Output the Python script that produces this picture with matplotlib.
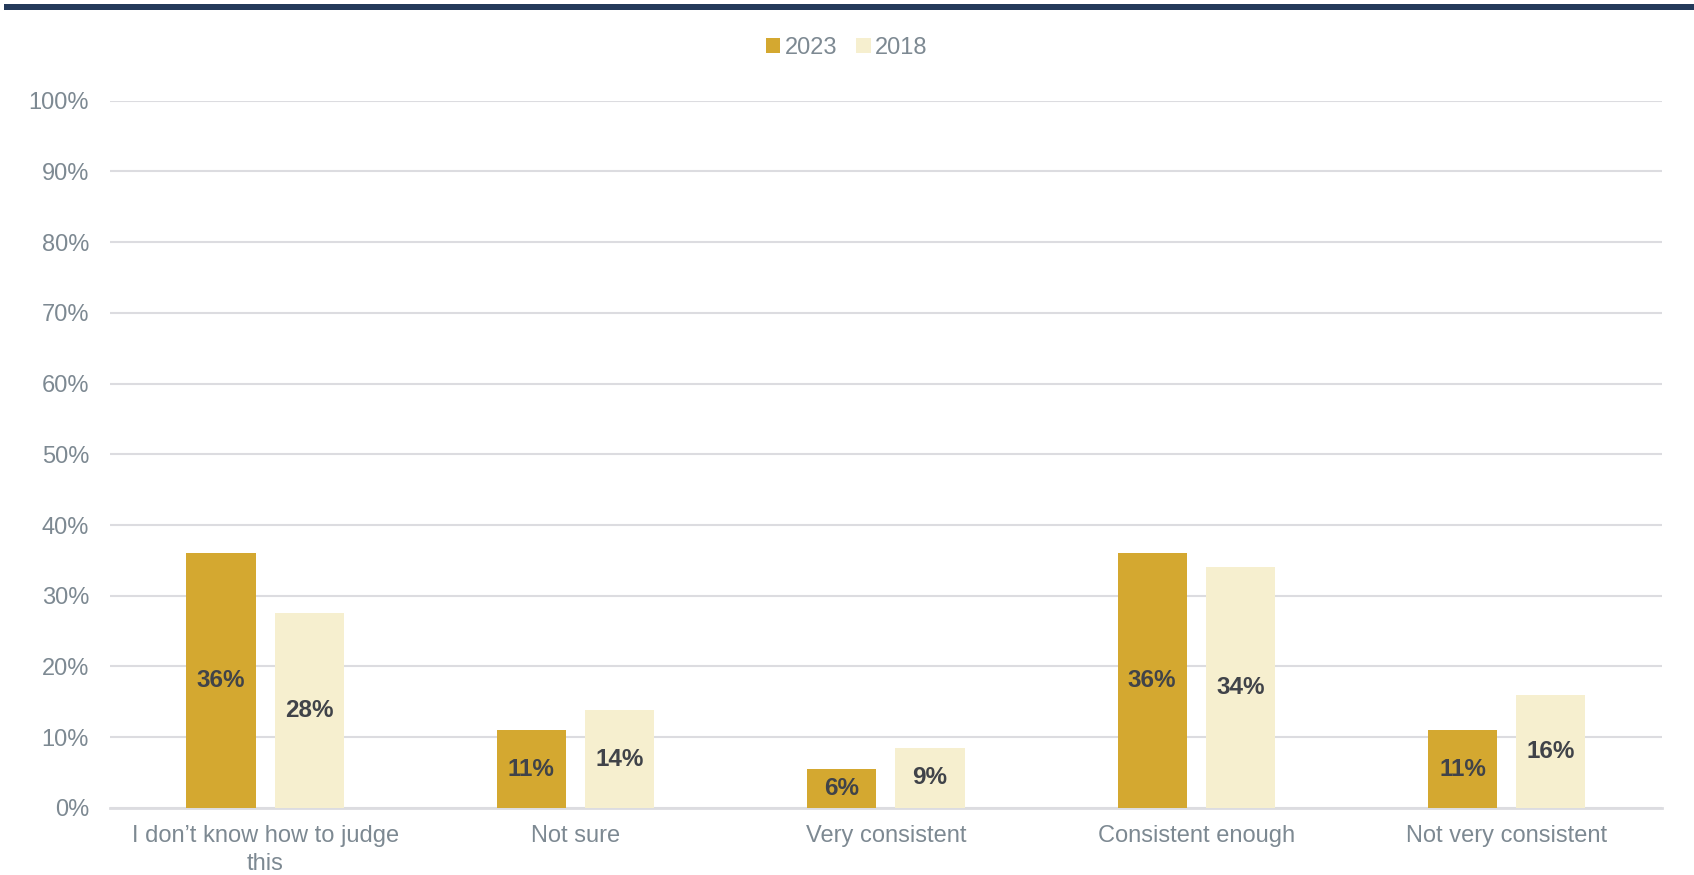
import matplotlib
matplotlib.use("Agg")
import matplotlib.pyplot as plt
import matplotlib.ticker as ticker
from matplotlib.patches import Patch, Rectangle
import numpy as np

categories = ["I don\u2019t know how to judge\nthis", "Not sure", "Very consistent",
              "Consistent enough", "Not very consistent"]
series_names = ["2023", "2018"]
values_2023 = [36, 11, 5.5, 36, 11]
values_2018 = [27.6, 13.8, 8.5, 34, 15.9]
labels_2023 = ["36%", "11%", "6%", "36%", "11%"]
labels_2018 = ["28%", "14%", "9%", "34%", "16%"]

GOLD = "#d4a830"
CREAM = "#f6efcf"
GRID = "#dcdce0"
TICK = "#7d8992"
LABEL = "#404349"
NAVY = "#243a5a"

plt.rcParams["font.family"] = ["Liberation Sans", "DejaVu Sans"]

fig = plt.figure(figsize=(16.94, 8.75), dpi=100)
ax = fig.add_axes([0.0649, 0.0766, 0.9161, 0.8085])

# top navy rule
fig.patches.append(Rectangle((0.0024, 0.9885), 0.9976, 0.0069, transform=fig.transFigure,
                             facecolor=NAVY, edgecolor="none"))

x = np.arange(len(categories))
w = 0.223
off = 0.142
b1 = ax.bar(x - off, values_2023, width=w, color=GOLD, zorder=3)
b2 = ax.bar(x + off, values_2018, width=w, color=CREAM, zorder=3)

for bars, labels in ((b1, labels_2023), (b2, labels_2018)):
    for bar, lab in zip(bars, labels):
        ax.text(bar.get_x() + bar.get_width() / 2, bar.get_height() / 2, lab,
                ha="center", va="center", fontsize=17.5, fontweight="bold",
                color=LABEL, zorder=4)

ax.set_xlim(-0.5, len(categories) - 0.5)
ax.set_ylim(0, 100)
ax.yaxis.set_major_locator(ticker.MultipleLocator(10))
ax.yaxis.set_major_formatter(ticker.FuncFormatter(lambda v, p: f"{v:.0f}%"))
ax.set_xticks(x)
ax.set_xticklabels(categories, fontsize=17, color=TICK, linespacing=1.4)
ax.tick_params(axis="y", length=0, pad=15, labelsize=17, labelcolor=TICK)
ax.tick_params(axis="x", length=0, pad=12)
ax.grid(axis="y", color=GRID, linewidth=1.5, zorder=0)
for s in ["top", "right", "left"]:
    ax.spines[s].set_visible(False)
ax.spines["bottom"].set_color(GRID)
ax.spines["bottom"].set_linewidth(2)

handles = [Patch(facecolor=GOLD, edgecolor="none"), Patch(facecolor=CREAM, edgecolor="none")]
leg = fig.legend(handles, series_names, loc="center", bbox_to_anchor=(0.5, 0.945),
                 ncol=2, frameon=False, fontsize=17, handlelength=0.6, handleheight=0.6,
                 handletextpad=0.2, columnspacing=0.8, labelcolor=TICK)

fig.savefig("out.png", dpi=100)
